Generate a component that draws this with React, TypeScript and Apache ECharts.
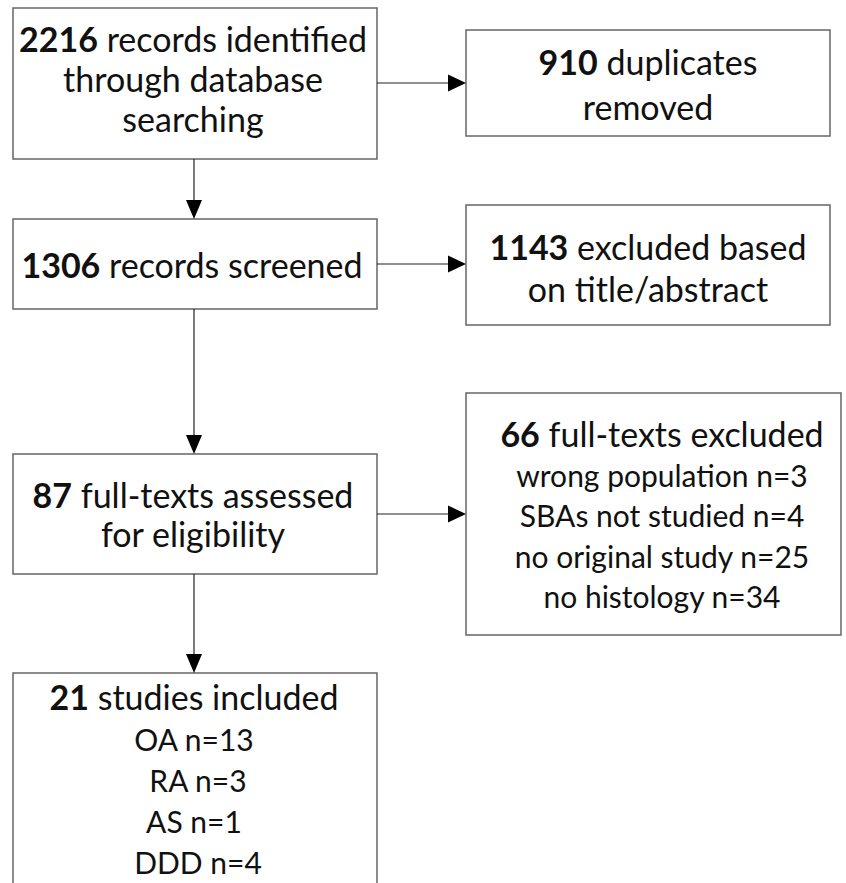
import React, { useEffect, useRef } from "react";
import * as echarts from "echarts";

// ---- data ----
const flowCounts = [2216, 1306, 87, 21];
const flowLines = [
  ["records identified", "through database", "searching"],
  ["records screened"],
  ["full-texts assessed", "for eligibility"],
  ["studies included"],
];
const removedCounts = [910, 1143, 66];
const removedLines = [
  ["duplicates", "removed"],
  ["excluded based", "on title/abstract"],
  ["full-texts excluded"],
];
const reasonNames = ["wrong population", "SBAs not studied", "no original study", "no histology"];
const reasonCounts = [3, 4, 25, 34];
const groupNames = ["OA", "RA", "AS", "DDD"];
const groupCounts = [13, 3, 1, 4];

// ---- layout ----
const FONT = "Lato";
const FS = 34;
const FS_SMALL = 30;
const TEXT_COLOR = "#111";
const BOX_COLOR = "#666";
const LINE_COLOR = "#222";

const leftBoxes = [
  { x0: 13, x1: 377, y0: 8, y1: 159, cx: 193, ys: [38, 78, 118] },
  { x0: 13, x1: 377, y0: 219, y1: 309, cx: 192, ys: [264] },
  { x0: 13, x1: 377, y0: 454, y1: 574, cx: 193, ys: [494, 533] },
  { x0: 13, x1: 377, y0: 673, y1: 910, cx: 194, ys: [696, 739, 780, 821, 862] },
];
const rightBoxes = [
  { x0: 466, x1: 830, y0: 30, y1: 136, cx: 648, ys: [61, 106] },
  { x0: 466, x1: 830, y0: 205, y1: 325, cx: 648, ys: [246, 288] },
  { x0: 466, x1: 841, y0: 393, y1: 635, cx: 662, ys: [433.5, 474.5, 514.5, 555.5, 595.5] },
];
const groupOffsets = [0, 4, 0, 4];
const rowY = [83, 264, 514];
const colX = 194;

const rich = {
  b: { fontFamily: FONT, fontSize: FS, fontWeight: "bold", fill: TEXT_COLOR },
  n: { fontFamily: FONT, fontSize: FS, fontWeight: "normal", fill: TEXT_COLOR },
  s: { fontFamily: FONT, fontSize: FS_SMALL, fontWeight: "normal", fill: TEXT_COLOR },
};

function textEl(x: number, y: number, str: string, size: number) {
  return {
    type: "text",
    x,
    y,
    silent: true,
    style: {
      text: str,
      fill: TEXT_COLOR,
      fontFamily: FONT,
      fontSize: size,
      align: "center",
      verticalAlign: "middle",
      rich,
    },
  };
}

function boxEl(b: { x0: number; x1: number; y0: number; y1: number }) {
  return {
    type: "rect",
    shape: { x: b.x0, y: b.y0, width: b.x1 - b.x0, height: b.y1 - b.y0 },
    style: { fill: "#fff", stroke: BOX_COLOR, lineWidth: 1.5 },
  };
}

function hArrow(x0: number, x1: number, y: number) {
  return [
    { type: "line", shape: { x1: x0, y1: y, x2: x1 - 16, y2: y }, style: { stroke: LINE_COLOR, lineWidth: 1.2 } },
    {
      type: "polygon",
      shape: { points: [[x1, y], [x1 - 18, y - 8.5], [x1 - 18, y + 8.5]] },
      style: { fill: "#000" },
    },
  ];
}

function vArrow(x: number, y0: number, y1: number) {
  return [
    { type: "line", shape: { x1: x, y1: y0, x2: x, y2: y1 - 16 }, style: { stroke: LINE_COLOR, lineWidth: 1.2 } },
    {
      type: "polygon",
      shape: { points: [[x, y1], [x - 8, y1 - 19], [x + 8, y1 - 19]] },
      style: { fill: "#000" },
    },
  ];
}

function buildGraphic() {
  const els: any[] = [];
  leftBoxes.forEach((b) => els.push(boxEl(b)));
  rightBoxes.forEach((b) => els.push(boxEl(b)));

  // left column texts
  leftBoxes.forEach((b, i) => {
    const lines = flowLines[i];
    els.push(textEl(b.cx, b.ys[0], `{b|${flowCounts[i]}}{n| ${lines[0]}}`, FS));
    for (let k = 1; k < lines.length; k++) els.push(textEl(b.cx, b.ys[k], `{n|${lines[k]}}`, FS));
  });
  // included groups
  const inc = leftBoxes[3];
  groupNames.forEach((g, k) => {
    els.push(textEl(inc.cx + groupOffsets[k], inc.ys[k + 1], `{s|${g} n=${groupCounts[k]}}`, FS_SMALL));
  });

  // right column texts
  rightBoxes.forEach((b, i) => {
    const lines = removedLines[i];
    els.push(textEl(b.cx, b.ys[0], `{b|${removedCounts[i]}}{n| ${lines[0]}}`, FS));
    for (let k = 1; k < lines.length; k++) els.push(textEl(b.cx, b.ys[k], `{n|${lines[k]}}`, FS));
  });
  const exc = rightBoxes[2];
  reasonNames.forEach((r, k) => {
    els.push(textEl(exc.cx, exc.ys[k + 1], `{s|${r} n=${reasonCounts[k]}}`, FS_SMALL));
  });

  // arrows
  rowY.forEach((y, i) => {
    els.push(...hArrow(leftBoxes[i].x1, rightBoxes[i].x0, y));
  });
  for (let i = 0; i < 3; i++) {
    els.push(...vArrow(colX, leftBoxes[i].y1, leftBoxes[i + 1].y0));
  }
  return els;
}

export default function App() {
  const ref = useRef<HTMLDivElement>(null);
  useEffect(() => {
    if (!ref.current) return;
    const chart = echarts.init(ref.current, null, { renderer: "svg" });
    chart.setOption({
      animation: false,
      backgroundColor: "#fff",
      graphic: buildGraphic(),
    });
    return () => chart.dispose();
  }, []);
  return (
    <div
      ref={ref}
      style={{ position: "fixed", left: 0, top: 0, width: 846, height: 883, background: "#fff" }}
    />
  );
}
